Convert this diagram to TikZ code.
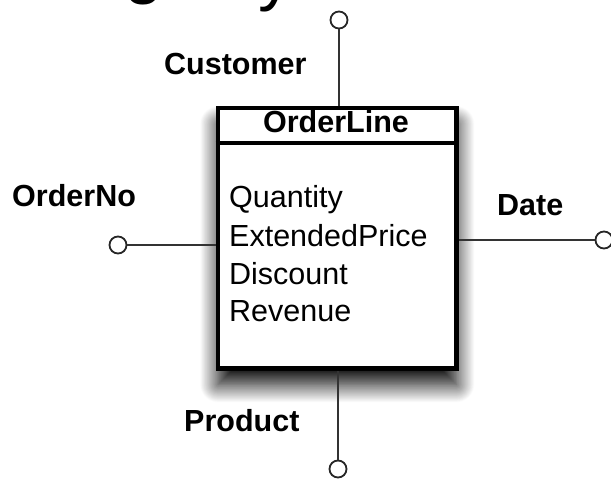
\documentclass[tikz,border=0pt]{standalone}
\usepackage{fontspec}
\setmainfont{Liberation Sans}
\usetikzlibrary{shadows.blur}
\begin{document}
\begin{tikzpicture}[x=1pt,y=-1pt,
  conn/.style={line width=1.8pt, draw=black!80},
  endpt/.style={circle, draw=black!85, line width=1.8pt, fill=white,
                minimum size=17pt, inner sep=0pt},
  lbl/.style={font=\fontsize{30.5}{36}\selectfont\bfseries,
              anchor=base west, inner sep=0pt},
  attr/.style={font=\fontsize{30.5}{36}\selectfont,
               anchor=base west, inner sep=0pt},
  bigtext/.style={font=\fontsize{70}{70}\selectfont,
                  anchor=south west, inner sep=0pt},
  entity/.style={draw=black, line width=4.8pt, fill=white,
                 minimum width=238.5pt, minimum height=260.5pt,
                 inner sep=0pt,
                 blur shadow={shadow xshift=0pt, shadow yshift=-16pt,
                              shadow blur radius=18pt,
                              shadow blur steps=28,
                              shadow opacity=100}},
]
\useasboundingbox (0,0) rectangle (611,481);
\clip (0,0) rectangle (611,481);

% heading text running off the top edge
\node[bigtext] (headg) at (124,5) {g};
\node[bigtext] (heady) at (258,12) {y};

% entity box with its title bar
\node[entity] (box) at (337.25,238.25) {};
\coordinate (hdr) at (0,143);
\draw[line width=3.5pt] (box.west |- hdr) -- (box.east |- hdr);
\node[lbl, anchor=base] (title) at (336,133) {OrderLine};

% attributes
\node[attr] (a1) at (229,208) {Quantity};
\node[attr] (a2) at (229,246.5) {ExtendedPrice};
\node[attr] (a3) at (229,284.5) {Discount};
\node[attr] (a4) at (229,322) {Revenue};

% dimension end points
\node[endpt] (ctop)   at (339,20) {};
\node[endpt] (cleft)  at (118,245) {};
\node[endpt] (cright) at (604,240) {};
\node[endpt] (cbot)   at (338,469) {};

% connectors
\draw[conn] (ctop) -- (ctop |- box.north);
\draw[conn] (cleft) -- (cleft -| box.west);
\draw[conn] (box.east |- cright) -- (cright);
\draw[conn] (box.south -| cbot) -- (cbot);

% dimension labels
\node[lbl] (customer) at (164,75) {Customer};
\node[lbl] (orderno)  at (12,207) {OrderNo};
\node[lbl] (date)     at (497,216) {Date};
\node[lbl] (product)  at (184,431) {Product};
\end{tikzpicture}
\end{document}
